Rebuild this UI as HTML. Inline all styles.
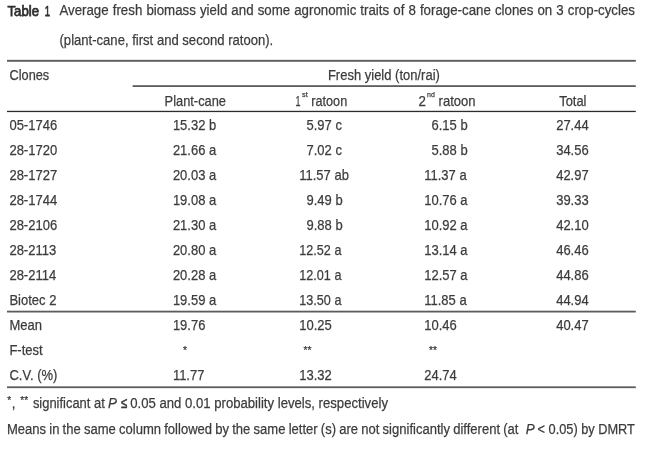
<!DOCTYPE html>
<html lang="en">
<head>
<meta charset="utf-8">
<title>Table 1</title>
<style>
html,body{margin:0;padding:0;background:#fff;}
body{width:650px;height:450px;overflow:hidden;}
svg{display:block;}
text{font-family:'Liberation Sans',sans-serif;fill:#3c3c3c;stroke:#3c3c3c;stroke-width:0.25px;}
svg{filter:blur(0.45px);}
</style>
</head>
<body>
<svg width="650" height="450" viewBox="0 0 650 450" role="img" aria-label="Table 1">
<rect x="0" y="0" width="650" height="450" fill="#ffffff"/>
<rect x="7.0" y="59.85" width="628.8" height="1.9" fill="#5c5c5c"/>
<rect x="132.6" y="85.20" width="503.2" height="1.8" fill="#5c5c5c"/>
<rect x="7.0" y="110.80" width="628.8" height="1.3" fill="#2c2c2c"/>
<rect x="7.0" y="310.70" width="628.8" height="1.8" fill="#5c5c5c"/>
<rect x="7.0" y="386.35" width="628.8" height="1.8" fill="#5c5c5c"/>
<text x="7.50" y="15.65" font-size="14.4" textLength="31.50" lengthAdjust="spacingAndGlyphs" style="stroke-width:0.75px;fill:#2e2e2e;stroke:#2e2e2e;">Table</text>
<text x="44.70" y="15.65" font-size="14.4" textLength="5.30" lengthAdjust="spacingAndGlyphs" style="stroke-width:0.75px;fill:#2e2e2e;stroke:#2e2e2e;">1</text>
<text x="59.40" y="15.40" font-size="15.2" textLength="575.60" lengthAdjust="spacingAndGlyphs" word-spacing="0.45">Average fresh biomass yield and some agronomic traits of 8 forage-cane clones on 3 crop-cycles</text>
<text x="59.50" y="44.70" font-size="15.1" textLength="213.70" lengthAdjust="spacingAndGlyphs">(plant-cane, first and second ratoon).</text>
<text x="9.50" y="79.90" font-size="15" textLength="39.70" lengthAdjust="spacingAndGlyphs">Clones</text>
<text x="327.90" y="79.80" font-size="15.3" textLength="112.00" lengthAdjust="spacingAndGlyphs">Fresh yield (ton/rai)</text>
<text x="164.60" y="105.75" font-size="15" textLength="61.40" lengthAdjust="spacingAndGlyphs">Plant-cane</text>
<text x="295.60" y="105.75" font-size="15" textLength="5.00" lengthAdjust="spacingAndGlyphs">1</text>
<text x="302.10" y="96.80" font-size="8" textLength="5.70" lengthAdjust="spacingAndGlyphs">st</text>
<text x="311.30" y="105.75" font-size="15" textLength="35.90" lengthAdjust="spacingAndGlyphs">ratoon</text>
<text x="418.50" y="105.75" font-size="15" textLength="7.40" lengthAdjust="spacingAndGlyphs">2</text>
<text x="427.10" y="96.80" font-size="8" textLength="7.70" lengthAdjust="spacingAndGlyphs">nd</text>
<text x="438.60" y="105.75" font-size="15" textLength="37.00" lengthAdjust="spacingAndGlyphs">ratoon</text>
<text x="559.20" y="105.75" font-size="15" textLength="27.30" lengthAdjust="spacingAndGlyphs">Total</text>
<text x="9.40" y="130.00" font-size="15" textLength="47.79" lengthAdjust="spacingAndGlyphs">05-1746</text>
<text x="172.90" y="130.00" font-size="15" textLength="43.29" lengthAdjust="spacingAndGlyphs">15.32 b</text>
<text x="306.52" y="130.00" font-size="15" textLength="35.36" lengthAdjust="spacingAndGlyphs">5.97 c</text>
<text x="431.52" y="130.00" font-size="15" textLength="36.09" lengthAdjust="spacingAndGlyphs">6.15 b</text>
<text x="556.20" y="130.00" font-size="15" textLength="32.48" lengthAdjust="spacingAndGlyphs">27.44</text>
<text x="9.40" y="155.04" font-size="15" textLength="47.79" lengthAdjust="spacingAndGlyphs">28-1720</text>
<text x="172.90" y="155.04" font-size="15" textLength="43.29" lengthAdjust="spacingAndGlyphs">21.66 a</text>
<text x="306.52" y="155.04" font-size="15" textLength="35.36" lengthAdjust="spacingAndGlyphs">7.02 c</text>
<text x="431.52" y="155.04" font-size="15" textLength="36.09" lengthAdjust="spacingAndGlyphs">5.88 b</text>
<text x="556.20" y="155.04" font-size="15" textLength="32.48" lengthAdjust="spacingAndGlyphs">34.56</text>
<text x="9.40" y="180.08" font-size="15" textLength="47.79" lengthAdjust="spacingAndGlyphs">28-1727</text>
<text x="172.90" y="180.08" font-size="15" textLength="43.29" lengthAdjust="spacingAndGlyphs">20.03 a</text>
<text x="299.30" y="180.08" font-size="15" textLength="49.55" lengthAdjust="spacingAndGlyphs">11.57 ab</text>
<text x="424.30" y="180.08" font-size="15" textLength="42.33" lengthAdjust="spacingAndGlyphs">11.37 a</text>
<text x="556.20" y="180.08" font-size="15" textLength="32.48" lengthAdjust="spacingAndGlyphs">42.97</text>
<text x="9.40" y="205.12" font-size="15" textLength="47.79" lengthAdjust="spacingAndGlyphs">28-1744</text>
<text x="172.90" y="205.12" font-size="15" textLength="43.29" lengthAdjust="spacingAndGlyphs">19.08 a</text>
<text x="306.52" y="205.12" font-size="15" textLength="36.09" lengthAdjust="spacingAndGlyphs">9.49 b</text>
<text x="424.30" y="205.12" font-size="15" textLength="43.29" lengthAdjust="spacingAndGlyphs">10.76 a</text>
<text x="556.20" y="205.12" font-size="15" textLength="32.48" lengthAdjust="spacingAndGlyphs">39.33</text>
<text x="9.40" y="230.16" font-size="15" textLength="47.79" lengthAdjust="spacingAndGlyphs">28-2106</text>
<text x="172.90" y="230.16" font-size="15" textLength="43.29" lengthAdjust="spacingAndGlyphs">21.30 a</text>
<text x="306.52" y="230.16" font-size="15" textLength="36.09" lengthAdjust="spacingAndGlyphs">9.88 b</text>
<text x="424.30" y="230.16" font-size="15" textLength="43.29" lengthAdjust="spacingAndGlyphs">10.92 a</text>
<text x="556.20" y="230.16" font-size="15" textLength="32.48" lengthAdjust="spacingAndGlyphs">42.10</text>
<text x="9.40" y="255.20" font-size="15" textLength="46.82" lengthAdjust="spacingAndGlyphs">28-2113</text>
<text x="172.90" y="255.20" font-size="15" textLength="43.29" lengthAdjust="spacingAndGlyphs">20.80 a</text>
<text x="299.30" y="255.20" font-size="15" textLength="42.10" lengthAdjust="spacingAndGlyphs">12.52 a</text>
<text x="424.30" y="255.20" font-size="15" textLength="43.29" lengthAdjust="spacingAndGlyphs">13.14 a</text>
<text x="556.20" y="255.20" font-size="15" textLength="32.48" lengthAdjust="spacingAndGlyphs">46.46</text>
<text x="9.40" y="280.24" font-size="15" textLength="46.82" lengthAdjust="spacingAndGlyphs">28-2114</text>
<text x="172.90" y="280.24" font-size="15" textLength="43.29" lengthAdjust="spacingAndGlyphs">20.28 a</text>
<text x="299.30" y="280.24" font-size="15" textLength="42.10" lengthAdjust="spacingAndGlyphs">12.01 a</text>
<text x="424.30" y="280.24" font-size="15" textLength="43.29" lengthAdjust="spacingAndGlyphs">12.57 a</text>
<text x="556.20" y="280.24" font-size="15" textLength="32.48" lengthAdjust="spacingAndGlyphs">44.86</text>
<text x="9.40" y="305.28" font-size="15" textLength="47.05" lengthAdjust="spacingAndGlyphs">Biotec 2</text>
<text x="172.90" y="305.28" font-size="15" textLength="43.29" lengthAdjust="spacingAndGlyphs">19.59 a</text>
<text x="299.30" y="305.28" font-size="15" textLength="42.10" lengthAdjust="spacingAndGlyphs">13.50 a</text>
<text x="424.30" y="305.28" font-size="15" textLength="42.33" lengthAdjust="spacingAndGlyphs">11.85 a</text>
<text x="556.20" y="305.28" font-size="15" textLength="32.48" lengthAdjust="spacingAndGlyphs">44.94</text>
<text x="9.40" y="330.32" font-size="15" textLength="32.58" lengthAdjust="spacingAndGlyphs">Mean</text>
<text x="172.90" y="330.32" font-size="15" textLength="32.48" lengthAdjust="spacingAndGlyphs">19.76</text>
<text x="299.30" y="330.32" font-size="15" textLength="32.48" lengthAdjust="spacingAndGlyphs">10.25</text>
<text x="424.30" y="330.32" font-size="15" textLength="32.48" lengthAdjust="spacingAndGlyphs">10.46</text>
<text x="556.20" y="330.32" font-size="15" textLength="32.48" lengthAdjust="spacingAndGlyphs">40.47</text>
<text x="9.40" y="355.36" font-size="15" textLength="33.28" lengthAdjust="spacingAndGlyphs">F-test</text>
<text x="182.90" y="354.06" font-size="11.5" textLength="3.99" lengthAdjust="spacingAndGlyphs">*</text>
<text x="303.40" y="354.06" font-size="11.5" textLength="7.97" lengthAdjust="spacingAndGlyphs">**</text>
<text x="429.10" y="354.06" font-size="11.5" textLength="7.97" lengthAdjust="spacingAndGlyphs">**</text>
<text x="9.40" y="380.40" font-size="15" textLength="48.00" lengthAdjust="spacingAndGlyphs">C.V. (%)</text>
<text x="172.90" y="380.40" font-size="15" textLength="31.52" lengthAdjust="spacingAndGlyphs">11.77</text>
<text x="299.30" y="380.40" font-size="15" textLength="32.48" lengthAdjust="spacingAndGlyphs">13.32</text>
<text x="424.30" y="380.40" font-size="15" textLength="32.48" lengthAdjust="spacingAndGlyphs">24.74</text>
<text x="7.30" y="404.00" font-size="11.5" textLength="3.99" lengthAdjust="spacingAndGlyphs">*</text>
<text x="11.80" y="407.90" font-size="15.2" textLength="3.71" lengthAdjust="spacingAndGlyphs">,</text>
<text x="20.20" y="404.00" font-size="11.5" textLength="7.97" lengthAdjust="spacingAndGlyphs">**</text>
<text x="32.90" y="407.90" font-size="15.2" textLength="71.90" lengthAdjust="spacingAndGlyphs">significant at</text>
<text x="108.00" y="407.90" font-size="15.2" textLength="9.00" lengthAdjust="spacingAndGlyphs" font-style="italic">P</text>
<text x="121.10" y="408.20" font-size="15.2" textLength="6.20" lengthAdjust="spacingAndGlyphs" style="stroke-width:0.6px;">≤</text>
<text x="130.20" y="407.90" font-size="15.2" textLength="257.80" lengthAdjust="spacingAndGlyphs">0.05 and 0.01 probability levels, respectively</text>
<text x="6.90" y="434.20" font-size="15.2" textLength="511.60" lengthAdjust="spacingAndGlyphs" word-spacing="-0.5">Means in the same column followed by the same letter (s) are not significantly different (at</text>
<text x="525.70" y="434.20" font-size="15.2" textLength="9.00" lengthAdjust="spacingAndGlyphs" font-style="italic">P</text>
<text x="537.60" y="434.20" font-size="15.2" textLength="97.30" lengthAdjust="spacingAndGlyphs">&lt; 0.05) by DMRT</text>
</svg>
</body>
</html>
